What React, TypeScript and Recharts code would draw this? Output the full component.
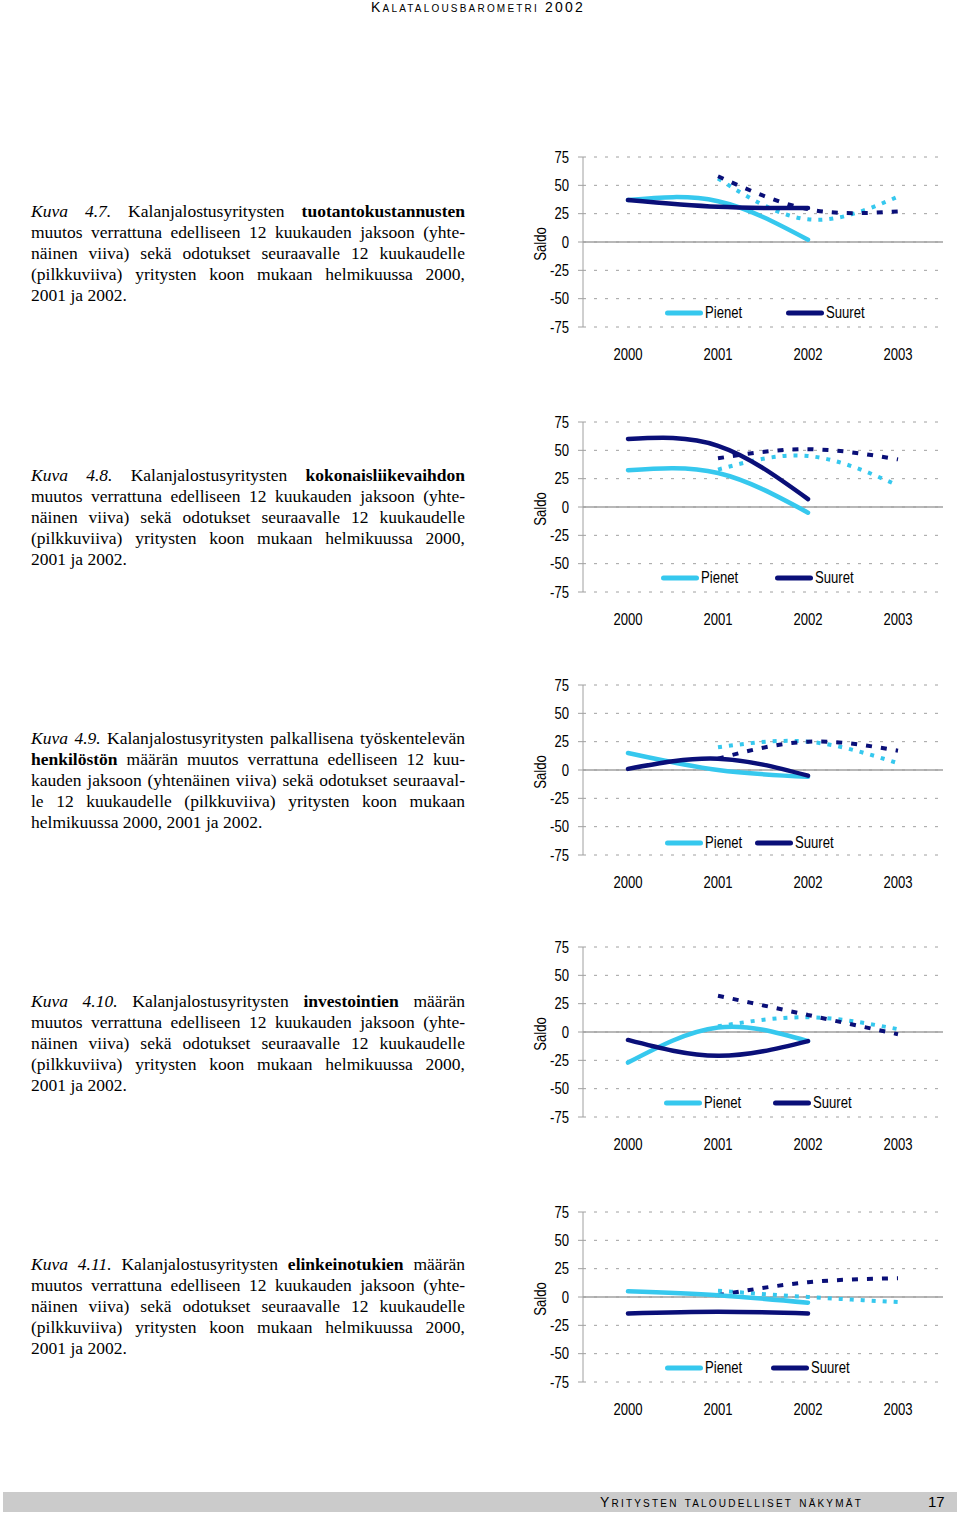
import React from 'react';
import { LineChart, Line, XAxis, YAxis, CartesianGrid, ReferenceLine, Legend } from 'recharts';

// ---------- data ----------
const years = [2000, 2001, 2002, 2003];
const yTicks = [-75, -50, -25, 0, 25, 50, 75];

// Kuva 4.7 tuotantokustannukset (solid: 2000-2002, expectations: 2001-2003)
const k47Pienet = [37, 36, 2];
const k47Suuret = [37, 31, 30];
const k47PienetOdotus = [56, 20, 40];
const k47SuuretOdotus = [58, 29, 27];

// Kuva 4.8 kokonaisliikevaihto
const k48Pienet = [32.5, 30, -5];
const k48Suuret = [60, 54, 7];
const k48PienetOdotus = [33, 45, 19];
const k48SuuretOdotus = [43, 51, 42];

// Kuva 4.9 henkilöstö
const k49Pienet = [15, 0, -6];
const k49Suuret = [1, 10, -5];
const k49PienetOdotus = [20, 25, 6];
const k49SuuretOdotus = [10, 25, 17];

// Kuva 4.10 investoinnit
const k410Pienet = [-27, 4, -8];
const k410Suuret = [-7, -21, -8];
const k410PienetOdotus = [5, 13, 2.5];
const k410SuuretOdotus = [32, 15, -2];

// Kuva 4.11 elinkeinotuet
const k411Pienet = [5, 1.5, -5];
const k411Suuret = [-14.5, -13, -14.5];
const k411PienetOdotus = [5.5, 0, -4.5];
const k411SuuretOdotus = [1.5, 13, 16.5];

const PIENET = '#36C8EE';
const SUURET = '#0A0F78';
const GRID = '#a0a0a0';
const SANS = '"Liberation Sans", Arial, sans-serif';
const SERIF = '"Liberation Serif", "Times New Roman", serif';
const NARROW = 0.82;
const FS = 16;

function buildData(p: number[], s: number[], pe: number[], se: number[]) {
  return years.map((year, i) => ({
    year,
    pienet: i < 3 ? p[i] : null,
    suuret: i < 3 ? s[i] : null,
    pienetOdotus: i >= 1 ? pe[i - 1] : null,
    suuretOdotus: i >= 1 ? se[i - 1] : null,
  }));
}

const XTick = (props: any) => {
  const { x, y, payload } = props;
  return (
    <g transform={`translate(${x},${y})`}>
      <text transform={`scale(${NARROW},1)`} textAnchor="middle" dy="0.71em" fontFamily={SANS} fontSize={FS} fill="#000">{payload.value}</text>
    </g>
  );
};

const YTick = (props: any) => {
  const { x, y, payload } = props;
  return (
    <g transform={`translate(${x},${y})`}>
      <text transform={`scale(${NARROW},1)`} textAnchor="end" dy="0.355em" fontFamily={SANS} fontSize={FS} fill="#000">{payload.value}</text>
    </g>
  );
};

const SaldoLabel = (props: any) => {
  const vb = props.viewBox || { y: 20, height: 170 };
  const cx = 20;
  const cy = vb.y + vb.height / 2 + 2;
  return (
    <g transform={`translate(${cx},${cy}) rotate(-90) scale(${NARROW},1)`}>
      <text x={0} y={0} textAnchor="middle" dy="0.355em" fontFamily={SANS} fontSize={FS} fill="#000">Saldo</text>
    </g>
  );
};

function LegendItem({ left, color, label }: { left: number; color: string; label: string }) {
  return (
    <div style={{ position: 'absolute', left, top: 0, height: 20, display: 'flex', alignItems: 'center', whiteSpace: 'nowrap' }}>
      <svg width={38} height={20} style={{ display: 'block' }}>
        <line x1={2.5} y1={10} x2={35.5} y2={10} stroke={color} strokeWidth={5} strokeLinecap="round" />
      </svg>
      <span style={{ display: 'inline-block', fontFamily: SANS, fontSize: FS, color: '#000', marginLeft: 2, lineHeight: '20px', transform: `scaleX(${NARROW})`, transformOrigin: 'left center' }}>{label}</span>
    </div>
  );
}

function SaldoChart({ top, data, pLeft, sLeft, legendTop }: any) {
  return (
    <div style={{ position: 'absolute', left: 520, top, width: 440, height: 260 }}>
      <LineChart width={440} height={260} data={data} margin={{ top: 20, right: 17, bottom: 30, left: 0 }}>
        <CartesianGrid vertical={false} stroke={GRID} strokeDasharray="3 8" />
        <XAxis dataKey="year" type="number" domain={[1999.5, 2003.5]} ticks={years} interval={0}
          axisLine={false} tickLine={false} tickSize={0} tickMargin={22} height={40} tick={<XTick />} />
        <YAxis type="number" domain={[-75, 75]} ticks={yTicks} interval={0} width={63}
          axisLine={{ stroke: GRID }} tickLine={{ stroke: GRID }} tickSize={5} tickMargin={9}
          tick={<YTick />} label={<SaldoLabel />} />
        <ReferenceLine y={0} stroke={GRID} strokeWidth={1.5} />
        <Legend layout="horizontal" verticalAlign="middle" align="center"
          wrapperStyle={{ left: 0, top: legendTop, width: 440, height: 20 }}
          content={() => (
            <div style={{ position: 'relative', width: 440, height: 20 }}>
              <LegendItem left={pLeft} color={PIENET} label="Pienet" />
              <LegendItem left={sLeft} color={SUURET} label="Suuret" />
            </div>
          )} />
        <Line dataKey="pienetOdotus" type="natural" stroke={PIENET} strokeWidth={4} strokeDasharray="4 7"
          dot={false} activeDot={false} isAnimationActive={false} legendType="none" />
        <Line dataKey="suuretOdotus" type="natural" stroke={SUURET} strokeWidth={4} strokeDasharray="6 9"
          dot={false} activeDot={false} isAnimationActive={false} legendType="none" />
        <Line dataKey="pienet" type="natural" stroke={PIENET} strokeWidth={4.5} strokeLinecap="round"
          dot={false} activeDot={false} isAnimationActive={false} />
        <Line dataKey="suuret" type="natural" stroke={SUURET} strokeWidth={4.5} strokeLinecap="round"
          dot={false} activeDot={false} isAnimationActive={false} />
      </LineChart>
    </div>
  );
}

function Caption({ top, lines }: { top: number; lines: React.ReactNode[] }) {
  return (
    <div style={{ position: 'absolute', left: 31, top, width: 434, fontFamily: SERIF, fontSize: 17.5, lineHeight: '21px', color: '#000' }}>
      {lines.map((l, i) => {
        const last = i === lines.length - 1;
        return (
          <div key={i} style={{ whiteSpace: 'nowrap', textAlign: last ? 'left' : 'justify', textAlignLast: last ? 'left' : 'justify' } as any}>{l}</div>
        );
      })}
    </div>
  );
}

const commonLines = [
  'muutos verrattuna edelliseen 12 kuukauden jaksoon (yhte-',
  'näinen viiva) sekä odotukset seuraavalle 12 kuukaudelle',
  '(pilkkuviiva) yritysten koon mukaan helmikuussa 2000,',
  '2001 ja 2002.',
];

export default function App() {
  return (
    <div style={{ position: 'absolute', left: 0, top: 0, width: 960, height: 1514, background: '#fff', overflow: 'hidden' }}>
      <div style={{ position: 'absolute', left: 0, top: 0, width: 956, textAlign: 'center', fontFamily: SANS, fontSize: 14, lineHeight: '15px', letterSpacing: 2.2, fontVariant: 'small-caps', color: '#000' }}>
        Kalatalousbarometri 2002
      </div>

      <Caption top={201} lines={[
        <span><i>Kuva 4.7.</i> Kalanjalostusyritysten <b>tuotantokustannusten</b></span>,
        ...commonLines,
      ]} />
      <SaldoChart top={137} data={buildData(k47Pienet, k47Suuret, k47PienetOdotus, k47SuuretOdotus)} pLeft={145} sLeft={266} legendTop={166} />

      <Caption top={465} lines={[
        <span><i>Kuva 4.8.</i> Kalanjalostusyritysten <b>kokonaisliikevaihdon</b></span>,
        ...commonLines,
      ]} />
      <SaldoChart top={402} data={buildData(k48Pienet, k48Suuret, k48PienetOdotus, k48SuuretOdotus)} pLeft={141} sLeft={255} legendTop={166} />

      <Caption top={728} lines={[
        <span><i>Kuva 4.9.</i> Kalanjalostusyritysten palkallisena työskentelevän</span>,
        <span><b>henkilöstön</b> määrän muutos verrattuna edelliseen 12 kuu-</span>,
        'kauden jaksoon (yhtenäinen viiva) sekä odotukset seuraaval-',
        'le 12 kuukaudelle (pilkkuviiva) yritysten koon mukaan',
        'helmikuussa 2000, 2001 ja 2002.',
      ]} />
      <SaldoChart top={665} data={buildData(k49Pienet, k49Suuret, k49PienetOdotus, k49SuuretOdotus)} pLeft={145} sLeft={235} legendTop={168} />

      <Caption top={991} lines={[
        <span><i>Kuva 4.10.</i> Kalanjalostusyritysten <b>investointien</b> määrän</span>,
        ...commonLines,
      ]} />
      <SaldoChart top={927} data={buildData(k410Pienet, k410Suuret, k410PienetOdotus, k410SuuretOdotus)} pLeft={144} sLeft={253} legendTop={166} />

      <Caption top={1254} lines={[
        <span><i>Kuva 4.11.</i> Kalanjalostusyritysten <b>elinkeinotukien</b> määrän</span>,
        ...commonLines,
      ]} />
      <SaldoChart top={1192} data={buildData(k411Pienet, k411Suuret, k411PienetOdotus, k411SuuretOdotus)} pLeft={145} sLeft={251} legendTop={166} />

      <div style={{ position: 'absolute', left: 3, top: 1492, width: 954, height: 20, background: '#cbcbcb' }} />
      <div style={{ position: 'absolute', left: 600, top: 1493, height: 18, lineHeight: '18px', fontFamily: SANS, fontSize: 14, letterSpacing: 2.2, fontVariant: 'small-caps', color: '#000', whiteSpace: 'nowrap' }}>
        Yritysten taloudelliset näkymät
      </div>
      <div style={{ position: 'absolute', left: 928, top: 1493, height: 18, lineHeight: '18px', fontFamily: SANS, fontSize: 15, color: '#000' }}>
        17
      </div>
    </div>
  );
}
